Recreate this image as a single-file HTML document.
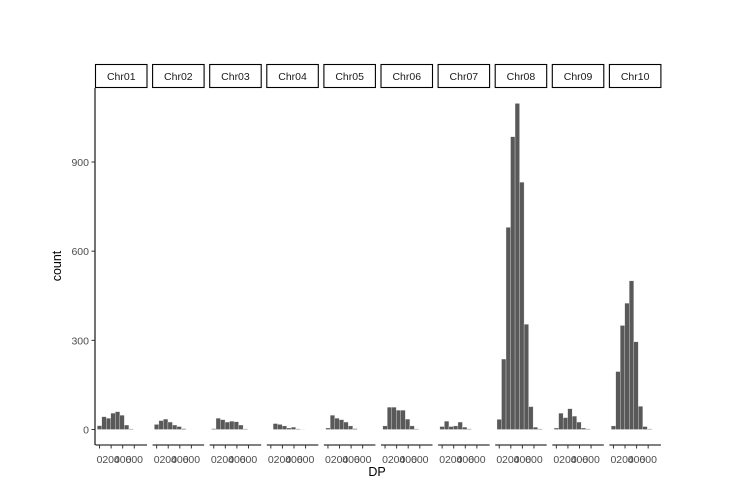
<!DOCTYPE html>
<html><head><meta charset="utf-8"><style>
body{margin:0;background:#fff;}
svg{display:block;font-family:"Liberation Sans",sans-serif;}
</style></head><body>
<svg id="c" width="756" height="496"></svg>
<script>
const panels=["Chr01","Chr02","Chr03","Chr04","Chr05","Chr06","Chr07","Chr08","Chr09","Chr10"];
const counts=[
[13,43,38,55,60,48,15,2],
[17,30,35,25,15,10,3],
[3,38,33,25,28,26,15,2],
[0,20,17,12,5,8,2,1],
[5,48,38,33,25,12,3],
[12,75,75,65,65,35,12,2],
[10,28,10,12,25,8,2],
[34,237,680,985,1097,832,354,77,8,2],
[5,55,40,70,45,25,5,2],
[12,195,350,425,500,295,78,10,2]
];
const yTicks=[0,300,600,900];
const xTicks=[0,200,400,600];
const binStart=-39, binW=78;
const NS="http://www.w3.org/2000/svg";
const svg=document.getElementById('c');
function el(t,a,p){const e=document.createElementNS(NS,t);for(const k in a)e.setAttribute(k,a[k]);(p||svg).appendChild(e);return e;}
const y0=429.5, yTop=88, yBot=445;
function ys(v){return y0-v*(267.5/900);}
const pLeft=95.5, pStep=57.1, pW=51.5;
function xs(v,i){return pLeft+i*pStep+(v+70)*(pW/890);}
const ya=el('line',{x1:95,y1:yTop,x2:95,y2:yBot,stroke:'#000','stroke-width':1.1});

yTicks.forEach(t=>{
 const l=el('line',{x1:91.5,x2:95,y1:ys(t),y2:ys(t),stroke:'#333','stroke-width':1});
 
 const tx=el('text',{x:89,y:ys(t)+4,'text-anchor':'end','font-size':'10.5',fill:'#4d4d4d'});
 tx.textContent=t;
 
});
panels.forEach((name,i)=>{
 const px=pLeft+i*pStep;
 const g=el('g',{});
 
 const sb=el('rect',{x:px,y:64.5,width:pW,height:23,fill:'#fff',stroke:'#000','stroke-width':1.1},g);
 
 const st=el('text',{x:px+pW/2,y:80,'text-anchor':'middle','font-size':'10.5',fill:'#1a1a1a'},g);
 st.textContent=name;
 
 counts[i].forEach((c,j)=>{
  const x1=xs(binStart+j*binW,i), x2=xs(binStart+(j+1)*binW,i);
  const r=el('rect',{x:x1,y:ys(c),width:x2-x1,height:y0-ys(c),fill:'#595959',stroke:'#f2f2f2','stroke-width':0.3},g);
  
 });
 const xa=el('line',{x1:px,x2:px+pW,y1:yBot,y2:yBot,stroke:'#000','stroke-width':1.1},g);
 
 xTicks.forEach(t=>{
  const l=el('line',{x1:xs(t,i),x2:xs(t,i),y1:yBot,y2:yBot+3.5,stroke:'#333','stroke-width':1},g);
  
  const tx=el('text',{x:xs(t,i),y:yBot+18,'text-anchor':'middle','font-size':'10.5',fill:'#4d4d4d'},g);
  tx.textContent=t;
  
 });
});
const xt=el('text',{x:377,y:476,'text-anchor':'middle','font-size':'12.5',fill:'#000'});
xt.textContent='DP';
const yt=el('text',{x:0,y:0,transform:'translate(61,266) rotate(-90)','text-anchor':'middle','font-size':'12.5',fill:'#000'});
yt.textContent='count';
</script>
</body></html>
